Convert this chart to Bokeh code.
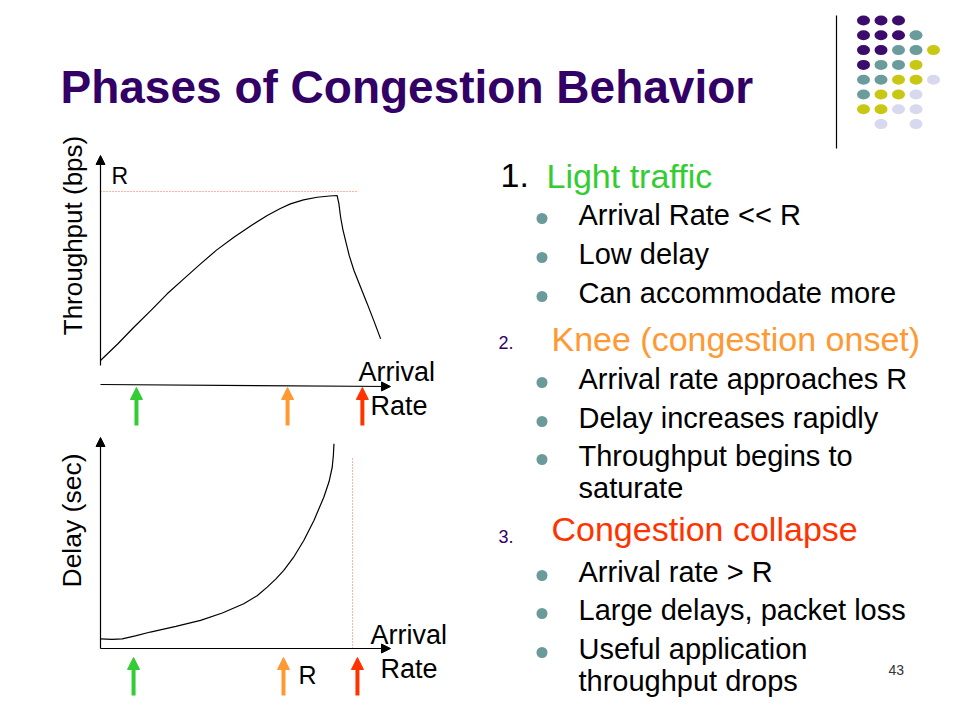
import math
from bokeh.plotting import figure
from bokeh.models import Range1d, Arrow, NormalHead
from bokeh.core.properties import value
from bokeh.embed import file_html
from bokeh.resources import INLINE

# ---------------- data ----------------
TITLE = "Phases of Congestion Behavior"

# Top chart: throughput (units of R) vs arrival rate (fraction of axis length)
thr_rate = [0.000, 0.060, 0.115, 0.175, 0.230, 0.290, 0.345, 0.400, 0.460, 0.520,
            0.575, 0.620, 0.655, 0.700, 0.747, 0.790, 0.816, 0.822, 0.828, 0.836,
            0.845, 0.858, 0.874, 0.897, 0.920, 0.943, 0.966]
thr_value = [0.029, 0.125, 0.220, 0.318, 0.412, 0.502, 0.584, 0.663, 0.737, 0.805,
             0.862, 0.902, 0.929, 0.952, 0.967, 0.974, 0.977, 0.930, 0.852, 0.780,
             0.718, 0.630, 0.546, 0.450, 0.354, 0.255, 0.153]
R_throughput = 1.0
R_line_end_rate = 0.89

# Bottom chart: delay vs arrival rate
dly_rate = [0.000, 0.040, 0.075, 0.120, 0.172, 0.260, 0.345, 0.420, 0.494, 0.540,
            0.575, 0.605, 0.632, 0.668, 0.701, 0.736, 0.770, 0.788, 0.799, 0.803, 0.805]
dly_value = [0.046, 0.043, 0.046, 0.060, 0.078, 0.105, 0.133, 0.168, 0.212, 0.250,
             0.291, 0.330, 0.370, 0.437, 0.512, 0.607, 0.717, 0.790, 0.859, 0.915, 0.970]
R_rate_delay = 0.869
R_line_top_delay = 0.905

# Phase markers (arrows) along the arrival-rate axis
phase_rates_top = [0.124, 0.645, 0.903]
phase_rates_bottom = [0.114, 0.631, 0.886]
phase_colors = ["#33cc33", "#ff9933", "#ff3300"]
phase_numbers = ["1.", "2.", "3."]
phase_titles = ["Light traffic", "Knee (congestion onset)", "Congestion collapse"]
phase_bullets = [
    [["Arrival Rate << R"], ["Low delay"], ["Can accommodate more"]],
    [["Arrival rate approaches R"], ["Delay increases rapidly"],
     ["Throughput begins to", "saturate"]],
    [["Arrival rate > R"], ["Large delays, packet loss"],
     ["Useful application", "throughput drops"]],
]
slide_number = "43"

# Decorative dot grid (P purple, T teal, Y yellow, L lavender, . empty)
dot_rows = ["PPP..", "PPPT.", "PPTTY", "PTTY.", "TTYYL", "TYYL.", "YYLL.", ".L.L."]
dot_palette = {"P": "#3b0c6c", "T": "#6b9c9c", "Y": "#c8c814", "L": "#d8d8ee"}

# ---------------- styles ----------------
FONT = value("Liberation Sans")
PURPLE = "#330066"
TEAL = "#6a9a9a"
R_LINE = "#ff6a3a"

# ---------------- figure (1 data unit = 1 screen px) ----------------
W, H = 944, 704
p = figure(width=W, height=H, x_range=Range1d(0, W), y_range=Range1d(H, 0),
           output_backend="svg", toolbar_location=None,
           x_axis_location=None, y_axis_location=None, min_border=0,
           outline_line_color=None, background_fill_color="white")
p.grid.visible = False


def lin_range(px0, px1, v0, v1, lo, hi):
    s = (v1 - v0) / (px1 - px0)
    return Range1d(start=v0 + (lo - px0) * s, end=v0 + (hi - px0) * s)


# chart scales: arrival rate 0..1 across x px 100..390
p.extra_x_ranges = {"rate": lin_range(100, 390, 0.0, 1.0, 0, W)}
p.extra_y_ranges = {"thr": lin_range(365, 191, 0.0, 1.0, H, 0),
                    "dly": lin_range(648, 437, 0.0, 1.0, H, 0)}


def label(x, y, txt, size, color="black", style="normal", align="left", angle=0.0):
    p.text(x=x if isinstance(x, list) else [x], y=y if isinstance(y, list) else [y],
           text=txt if isinstance(txt, list) else [txt], text_font=FONT,
           text_font_size=size, text_font_style=style, text_color=color,
           text_align=align, text_baseline="middle", angle=angle)


# ---- title ----
label(60, 86, TITLE, "46px", PURPLE, "bold")

# ---- decoration ----
p.segment(x0=[836], y0=[15], x1=[836], y1=[148], line_color="black", line_width=1.2)
dx, dy, dc = [], [], []
for r, row in enumerate(dot_rows):
    for c, ch in enumerate(row):
        if ch != ".":
            dx.append(863 + c * 17.5)
            dy.append(20 + r * 14.8)
            dc.append(dot_palette[ch])
p.ellipse(x=dx, y=dy, width=13, height=10, fill_color=dc, line_color=None)


def axis_arrow(x0, y0, x1, y1, xr="default", yr="default"):
    p.add_layout(Arrow(x_start=x0, y_start=y0, x_end=x1, y_end=y1,
                       x_range_name=xr, y_range_name=yr,
                       line_color="black", line_width=1.2,
                       end=NormalHead(size=9, fill_color="black", line_color="black", line_width=1)))


def phase_arrows(rates, y_base, y_tip):
    for r, col in zip(rates, phase_colors):
        p.segment(x0=[r], y0=[y_base], x1=[r], y1=[y_tip + 9], x_range_name="rate",
                  line_color=col, line_width=4)
        p.add_layout(Arrow(x_start=r, y_start=y_tip + 12, x_end=r, y_end=y_tip,
                           x_range_name="rate", line_alpha=0,
                           end=NormalHead(size=12, fill_color=col, line_color=col, line_width=1)))


# ---- top chart ----
axis_arrow(0, 365, 0, 155, xr="rate")
axis_arrow(0, 384, 1, 386, xr="rate")
p.line(x=[0, R_line_end_rate], y=[R_throughput, R_throughput], x_range_name="rate",
       y_range_name="thr", line_color=R_LINE, line_width=1, line_dash="1 2")
p.line(x=thr_rate, y=thr_value, x_range_name="rate", y_range_name="thr",
       line_color="black", line_width=1.2)
phase_arrows(phase_rates_top, 425, 387)
label(72, 235, "Throughput (bps)", "26px", angle=math.pi / 2, align="center")
label(111, 175.5, "R", "23px")
label([358, 370], [371.5, 405], ["Arrival", "Rate"], "27px")

# ---- bottom chart ----
axis_arrow(0, 648, 0, 437, xr="rate")
axis_arrow(0, 648, 1, 648, xr="rate")
p.line(x=[R_rate_delay, R_rate_delay], y=[0, R_line_top_delay], x_range_name="rate",
       y_range_name="dly", line_color=R_LINE, line_width=1, line_dash="1 2")
p.line(x=dly_rate, y=dly_value, x_range_name="rate", y_range_name="dly",
       line_color="black", line_width=1.2)
phase_arrows(phase_rates_bottom, 695, 657)
label(71, 520, "Delay (sec)", "26.5px", angle=math.pi / 2, align="center")
label(298, 674, "R", "25px")
label([370, 380], [634, 668], ["Arrival", "Rate"], "27px")

# ---- right-hand text ----
head_centers = [175, 338, 528]
number_centers = [175, 342, 536]
bullet_centers = [[[214], [253], [292]],
                  [[378], [417], [455, 487]],
                  [[571], [609], [648, 680]]]
for i in range(3):
    if i == 0:
        label(500, number_centers[i], phase_numbers[i], "34px")
        label(546, head_centers[i], phase_titles[i], "34px", phase_colors[i])
    else:
        label(498, number_centers[i], phase_numbers[i], "18px", PURPLE)
        label(551, head_centers[i], phase_titles[i], "34px", phase_colors[i])
    for lines, ys in zip(phase_bullets[i], bullet_centers[i]):
        p.scatter(x=[541.5], y=[ys[0] + 4], size=11, marker="circle",
                  fill_color=TEAL, line_color=None)
        label([578] * len(lines), ys, lines, "29px")

label(888, 669, slide_number, "14px", "#333333")

open("out.html", "w").write(file_html(p, INLINE))
